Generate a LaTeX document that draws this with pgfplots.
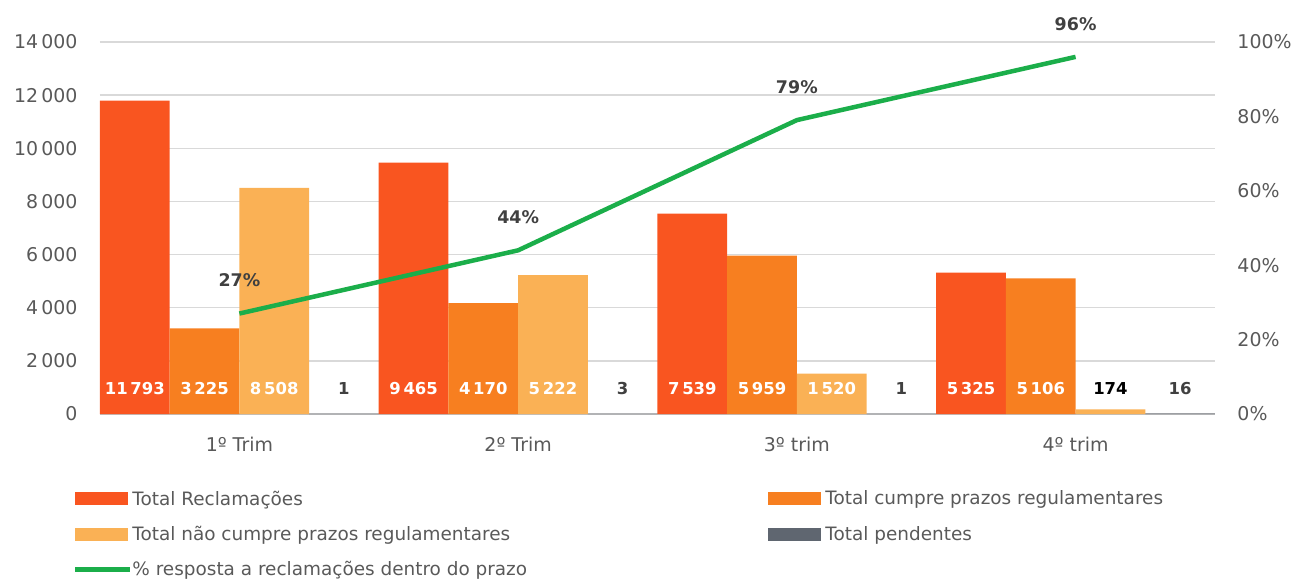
\documentclass[border=0pt]{standalone}
\usepackage{fontspec}
\setmainfont{DejaVu Sans}
\usepackage{pgfplots}
\pgfplotsset{compat=1.18}
\usepackage{pgfplotstable}
\definecolor{cRec}{HTML}{F95520}
\definecolor{cCum}{HTML}{F77F20}
\definecolor{cNao}{HTML}{FAB155}
\definecolor{cPen}{HTML}{5F6670}
\definecolor{cLine}{HTML}{1BAE4A}
\definecolor{cTxt}{HTML}{595959}
\definecolor{cLab}{HTML}{404040}
\definecolor{cGrid}{HTML}{D9D9D9}
\definecolor{cBase}{HTML}{BFBFBF}

\pgfplotstableread{
x total cumpre nao pend pct
0 11793 3225 8508 1 27
1 9465 4170 5222 3 44
2 7539 5959 1520 1 79
3 5325 5106 174 16 96
}\data

\pgfplotsset{
  barleg/.style={legend image code/.code={\fill[##1,draw=none] (0bp,-6.5bp) rectangle (53bp,6.5bp);}},
  lineleg/.style={legend image code/.code={\path[draw=none,fill=none,use as bounding box] (0bp,-6.5bp) rectangle (53bp,6.5bp); \draw[##1] (0bp,0bp) -- (55bp,0bp);}},
  barlab/.style={draw=none, mark=none, forget plot, nodes near coords, point meta=explicit,
    nodes near coords style={font=\fontsize{16.5}{18}\selectfont\bfseries, text=#1, anchor=center, yshift=25bp}},
}
\newcommand{\lbx}[1]{\makebox[635bp][l]{#1}}

\begin{document}
\begin{tikzpicture}
\useasboundingbox (-100bp,-166bp) rectangle (1194bp,414bp);
\begin{axis}[
  scale only axis, width=1115bp, height=372bp,
  xmin=-0.5, xmax=3.5, ymin=0, ymax=14000,
  axis x line*=bottom, axis y line*=left,
  x axis line style={-, draw=cBase, line width=1.5bp},
  y axis line style={draw=none},
  ymajorgrids, grid style={cGrid, line width=1.3bp},
  ytick={0,2000,...,14000},
  scaled y ticks=false,
  xtick={0,1,2,3}, xticklabels={1º Trim, 2º Trim, 3º trim, 4º trim},
  major tick length=0pt,
  tick label style={font=\fontsize{19}{22}\selectfont, text=cTxt},
  yticklabel style={xshift=-19bp},
  xticklabel style={yshift=-20bp},
  /pgf/number format/1000 sep={\,},
  /pgf/number format/assume math mode=true,
  legend columns=2,
  legend cell align=left,
  legend style={at={(-0.0222,-0.2033)}, anchor=north west, draw=none, fill=none,
    font=\fontsize{18.5}{22}\selectfont, text=cTxt, inner sep=0pt,
    nodes={inner sep=1bp}, row sep=17.5bp, column sep=0bp,
    /tikz/every odd column/.style={column sep=3bp}},
]
\addplot[barleg, ybar, bar width=0.25, bar shift=-0.375, fill=cRec, draw=none] table[x=x,y=total]{\data};
\addlegendentry{\lbx{Total Reclamações}}
\addplot[barleg, ybar, bar width=0.25, bar shift=-0.125, fill=cCum, draw=none] table[x=x,y=cumpre]{\data};
\addlegendentry{Total cumpre prazos regulamentares}
\addplot[barleg, ybar, bar width=0.25, bar shift=0.125, fill=cNao, draw=none] table[x=x,y=nao]{\data};
\addlegendentry{\lbx{Total não cumpre prazos regulamentares}}
\addplot[barleg, ybar, bar width=0.25, bar shift=0.375, fill=cPen, draw=none] table[x=x,y=pend]{\data};
\addlegendentry{Total pendentes}
\addlegendimage{lineleg, cLine, line width=4.5bp}
\addlegendentry{\lbx{\% resposta a reclamações dentro do prazo}}

\addplot[barlab=white] table[x expr=\thisrow{x}-0.375, y expr=0, meta=total]{\data};
\addplot[barlab=white] table[x expr=\thisrow{x}-0.125, y expr=0, meta=cumpre]{\data};
\addplot[barlab=white, skip coords between index={3}{4}] table[x expr=\thisrow{x}+0.125, y expr=0, meta=nao]{\data};
\addplot[barlab=black, skip coords between index={0}{3}] table[x expr=\thisrow{x}+0.125, y expr=0, meta=nao]{\data};
\addplot[barlab=cLab] table[x expr=\thisrow{x}+0.375, y expr=0, meta=pend]{\data};
\end{axis}
\begin{axis}[
  scale only axis, width=1115bp, height=372bp,
  xmin=-0.5, xmax=3.5, ymin=0, ymax=100,
  axis x line=none, axis y line*=right,
  y axis line style={draw=none},
  ytick={0,20,...,100},
  yticklabel={\pgfmathprintnumber{\tick}\%},
  major tick length=0pt,
  tick label style={font=\fontsize{19}{22}\selectfont, text=cTxt},
  yticklabel style={xshift=19bp},
  /pgf/number format/assume math mode=true,
]
\addplot[cLine, line width=4.5bp, mark=none, point meta=explicit,
  nodes near coords={\pgfmathprintnumber{\pgfplotspointmeta}\%},
  nodes near coords style={font=\fontsize{17.5}{20}\selectfont\bfseries, text=cLab, anchor=center, yshift=33bp}]
  table[x=x, y=pct, meta=pct]{\data};
\end{axis}
\end{tikzpicture}
\end{document}
